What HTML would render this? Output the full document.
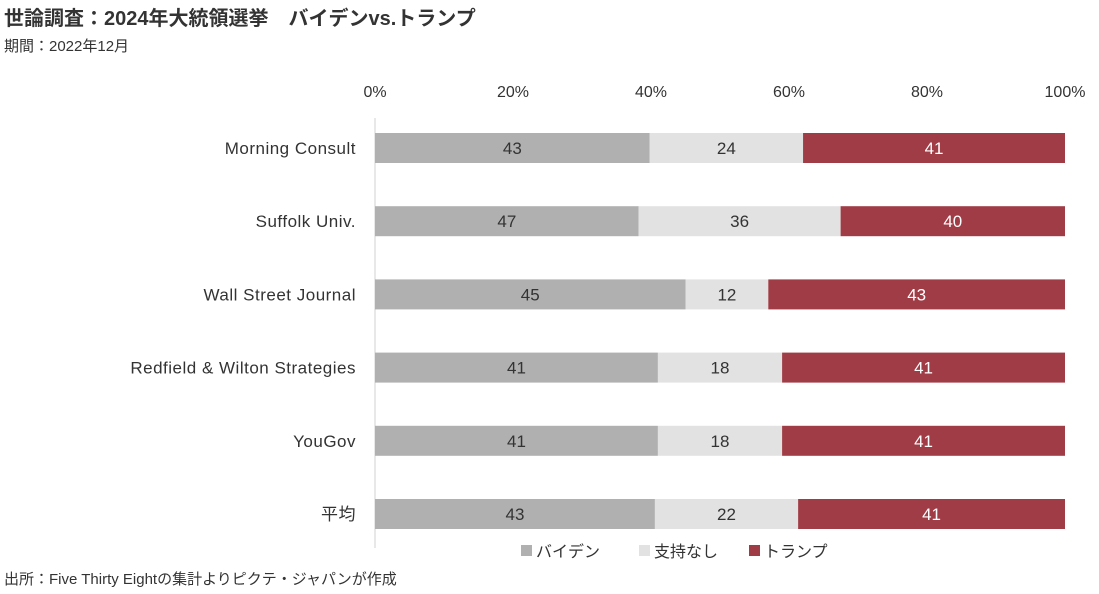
<!DOCTYPE html>
<html><head><meta charset="utf-8">
<style>
body{margin:0;background:#fff;font-family:"Liberation Sans","Noto Sans CJK JP",sans-serif;}
#wrap{position:relative;width:1099px;height:594px;overflow:hidden;}
.t{position:absolute;white-space:nowrap;color:#222;}
</style></head><body>
<div id="wrap">
<div class="t" style="left:4px;top:2px;font-size:20px;font-weight:bold;color:#333;">世論調査：2024年大統領選挙　バイデンvs.トランプ</div>
<div class="t" style="left:4px;top:35px;font-size:15px;color:#333;">期間：2022年12月</div>
<div class="t" style="left:4px;top:568px;font-size:15px;color:#333;">出所：Five Thirty Eightの集計よりピクテ・ジャパンが作成</div>
<svg id="svg" width="1099" height="594" style="position:absolute;left:0;top:0"></svg>
</div>
<script>
const categories=["Morning Consult","Suffolk Univ.","Wall Street Journal","Redfield & Wilton Strategies","YouGov","平均"];
const biden=[43,47,45,41,41,43];
const undecided=[24,36,12,18,18,22];
const trump=[41,40,43,41,41,41];
const tickLabels=["0%","20%","40%","60%","80%","100%"];
const seriesNames=["バイデン","支持なし","トランプ"];
const colors=["#b0b0b0","#e2e2e2","#a03c45"];
const textColors=["#333","#333","#fff"];
const NS="http://www.w3.org/2000/svg";
const svg=document.getElementById("svg");
const x0=375,x1=1065,y0=148,step=73.2,bh=30;
const xs=f=>x0+f*(x1-x0);
const ys=i=>y0+i*step;
function mk(tag,attrs){const e=document.createElementNS(NS,tag);for(const k in attrs)e.setAttribute(k,attrs[k]);svg.appendChild(e);return e;}
tickLabels.forEach((t,i)=>{
  const e=mk("text",{x:xs(i/(tickLabels.length-1)),y:97,"text-anchor":"middle","font-size":"16",fill:"#333","font-family":"Liberation Sans, sans-serif"});
  e.textContent=t;
  
  
});
const ax=mk("line",{x1:x0,x2:x0,y1:118,y2:548,stroke:"#d0d0d0","stroke-width":1});


const series=[biden,undecided,trump];
categories.forEach((c,i)=>{
  const total=biden[i]+undecided[i]+trump[i];
  let acc=0;
  const lbl=mk("text",{x:356,y:ys(i)+6,"text-anchor":"end","font-size":"17",fill:"#333","font-family":"Liberation Sans, Noto Sans CJK JP, sans-serif","letter-spacing":"0.5"});
  lbl.textContent=c;
  
  
  series.forEach((s,k)=>{
    const a=acc/total,b=(acc+s[i])/total;acc+=s[i];
    const r=mk("rect",{x:xs(a),y:ys(i)-bh/2,width:xs(b)-xs(a),height:bh,fill:colors[k]});
    
    
    const t=mk("text",{x:(xs(a)+xs(b))/2,y:ys(i)+6,"text-anchor":"middle","font-size":"17",fill:textColors[k],"font-family":"Liberation Sans, sans-serif"});
    t.textContent=s[i];
    
    
  });
});
let lx=521;
seriesNames.forEach((n,k)=>{
  const r=mk("rect",{x:lx,y:545,width:11,height:11,fill:colors[k]});
  
  
  const t=mk("text",{x:lx+15,y:557,"font-size":"16",fill:"#333","font-family":"Liberation Sans, Noto Sans CJK JP, sans-serif"});
  t.textContent=n;
  
  
  lx+=[118,110,0][k];
});
</script>
</body></html>
